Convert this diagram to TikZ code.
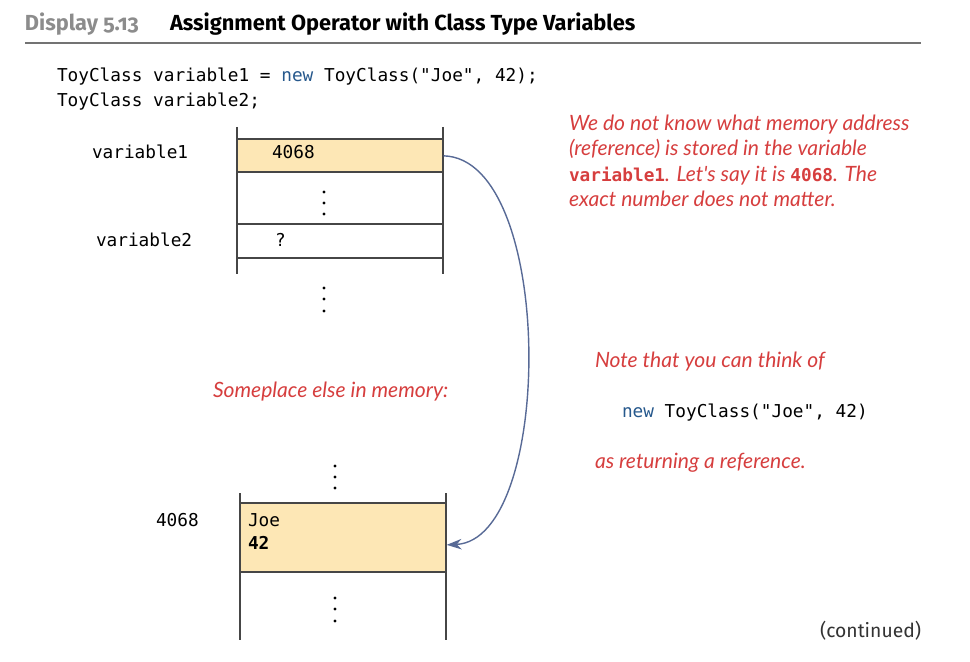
\documentclass[tikz,border=0pt]{standalone}
\usepackage{fontspec}
\setmainfont{Fira Sans}
\newfontfamily\dispfont[Numbers=OldStyle]{Fira Sans}
\newfontfamily\codefont{DejaVu Sans Mono}
\newfontfamily\handfont{Lato}
\usetikzlibrary{arrows.meta,calc}

\definecolor{memfill}{RGB}{253,231,181}
\definecolor{notered}{RGB}{214,62,62}
\definecolor{kwblue}{RGB}{38,88,140}
\definecolor{arrowblue}{RGB}{88,106,150}
\definecolor{linegray}{RGB}{70,70,70}

\tikzset{
  txt/.style={anchor=base west,inner sep=0pt,outer sep=0pt},
  code/.style={txt,font=\codefont\fontsize{10.1}{12}\selectfont},
  note/.style={txt,text=notered,font=\handfont\itshape\fontsize{12}{14}\selectfont},
  memcell/.style={anchor=north west,inner sep=0pt,fill=memfill,minimum width=#1},
  wall/.style={linegray,line width=0.8pt}
}

\begin{document}
\begin{tikzpicture}[x=0.02cm,y=-0.02cm,>=Stealth]
\useasboundingbox (0,0) rectangle (970,662);

% heading
\node[txt,text=black!45,font=\dispfont\bfseries\fontsize{12.4}{14}\selectfont] (disp) at (25,31) {Display 5.13};
\node[txt,font=\bfseries\fontsize{12.4}{14}\selectfont] (title) at (170,31) {Assignment Operator with Class Type Variables};
\draw[black!55,line width=1.1pt] (25,43) -- (921,43);

\node[code] (line1) at (57,82) {ToyClass variable1 = {\color{kwblue}new} ToyClass("Joe", 42);};
\node[code] (line2) at (57,107) {ToyClass variable2;};

% upper part of memory
\node[memcell=4.12cm,minimum height=0.66cm] (v1cell) at (237,139) {};
\foreach \y in {139,172,224,258}
  \draw[wall] (237,\y) -- (443,\y);
\draw[wall] (237,127) -- (237,274);
\draw[wall] (443,127) -- (443,274);

\node[code] (v1name) at (92,159) {variable1};
\node[code] (v1val) at (272,159) {4068};
\node[code] (v2name) at (96,247) {variable2};
\node[code] (v2val) at (275,247) {?};

\foreach \y in {192,203,214,288,299,311}
  \fill (324,\y) circle (1.6);

% notes
\node[note] (note1) at (569,131) {We do not know what memory address};
\node[note] (note2) at (569,156) {(reference) is stored in the variable};
\node[note] (note3) at (569,182) {{\codefont\upshape\bfseries\fontsize{10.1}{12}\selectfont variable1}. Let's say it is {\codefont\upshape\bfseries\fontsize{10.1}{12}\selectfont 4068}. The};
\node[note] (note4) at (569,207) {exact number does not matter.};

\node[note] (think) at (595,367) {Note that you can think of};
\node[code] (newexpr) at (622,417) {{\color{kwblue}new} ToyClass("Joe", 42)};
\node[note] (returning) at (595,468) {as returning a reference.};

\node[note] (elsewhere) at (213,397) {Someplace else in memory:};

% lower part of memory
\node[memcell=4.12cm,minimum height=1.38cm] (objcell) at (240,503) {};
\draw[wall] (240,503) -- (446,503);
\draw[wall] (240,572) -- (446,572);
\draw[wall] (240,493) -- (240,640);
\draw[wall] (446,493) -- (446,640);

\node[code] (objaddr) at (156,526) {4068};
\node[code] (objname) at (248,526) {Joe};
\node[code,font=\codefont\bfseries\fontsize{10.1}{12}\selectfont] (objnum) at (248,549) {42};

\foreach \y in {466,477,488,598,609,621}
  \fill (335,\y) circle (1.6);

% reference arrow
\draw[->,arrowblue,line width=0.8pt,-{Stealth[length=8.5pt,width=6pt]}]
  (v1cell.east) .. controls +(112,3) and +(108,-5) .. ([yshift=-4]objcell.east);

\node[txt,text=black!80,font=\fontsize{11}{13}\selectfont] (contd) at (820,637) {(continued)};
\end{tikzpicture}
\end{document}
